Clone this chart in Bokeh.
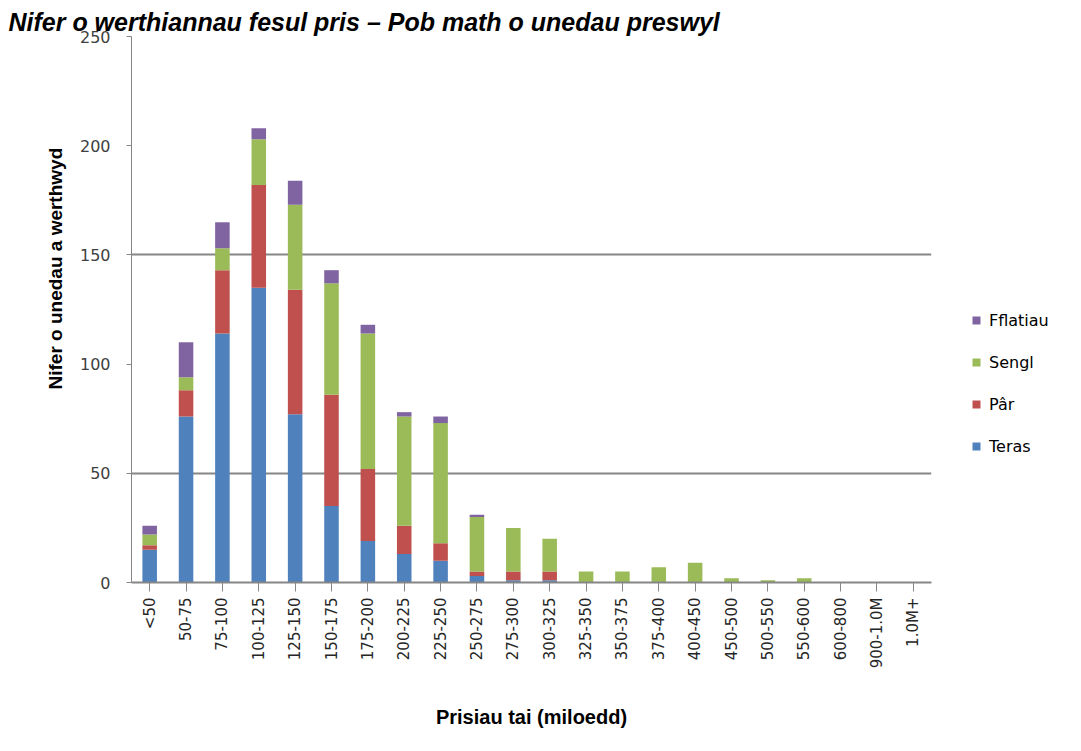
import math
from bokeh.plotting import figure
from bokeh.layouts import row
from bokeh.models import (ColumnDataSource, FactorRange, Range1d, FixedTicker,
                          Legend, LegendItem, Title)
from bokeh.embed import file_html
from bokeh.resources import INLINE

# ---- data ----
categories = ["<50", "50-75", "75-100", "100-125", "125-150", "150-175", "175-200",
              "200-225", "225-250", "250-275", "275-300", "300-325", "325-350",
              "350-375", "375-400", "400-450", "450-500", "500-550", "550-600",
              "600-800", "900-1.0M", "1.0M+"]
teras    = [15, 76, 114, 135, 77, 35, 19, 13, 10, 3, 1, 1, 0, 0, 0, 0, 0, 0, 0, 0, 0, 0]
par      = [2, 12, 29, 47, 57, 51, 33, 13, 8, 2, 4, 4, 0, 0, 0, 0, 0, 0, 0, 0, 0, 0]
sengl    = [5, 6, 10, 21, 39, 51, 62, 50, 55, 25, 20, 15, 5, 5, 7, 9, 2, 1, 2, 0, 0, 0]
fflatiau = [4, 16, 12, 5, 11, 6, 4, 2, 3, 1, 0, 0, 0, 0, 0, 0, 0, 0, 0, 0, 0, 0]
series_names = ["Teras", "Pâr", "Sengl", "Fflatiau"]
y_ticks = [0, 50, 100, 150, 200, 250]

title_text = "Nifer o werthiannau fesul pris \u2013 Pob math o unedau preswyl"
y_title = "Nifer o unedau a werthwyd"
x_title = "Prisiau tai (miloedd)"

colors = ["#4F81BD", "#C0504D", "#9BBB59", "#8064A2"]
grey = "#868686"
TICK_FONT = "DejaVu Sans"
BOLD_FONT = "Liberation Sans"

source = ColumnDataSource(dict(cats=categories, teras=teras, par=par,
                               sengl=sengl, fflatiau=fflatiau))

MAIN_W = 950
p = figure(x_range=FactorRange(factors=categories, range_padding=0),
           y_range=Range1d(0, 250),
           width=MAIN_W, height=751, output_backend="svg", toolbar_location=None,
           min_border_left=131, min_border_right=MAIN_W - 931, min_border_top=36,
           min_border_bottom=169)
p.outline_line_color = None
p.background_fill_color = "white"
p.border_fill_color = "white"

rs = p.vbar_stack(["teras", "par", "sengl", "fflatiau"], x="cats", width=0.4,
                  fill_color=colors, line_color=None, source=source)

# grid
p.xgrid.visible = False
p.ygrid.ticker = FixedTicker(ticks=[50, 150])
p.ygrid.grid_line_color = grey
p.ygrid.grid_line_width = 2

# y axis
p.yaxis.ticker = FixedTicker(ticks=y_ticks)
p.yaxis.axis_line_color = grey
p.yaxis.major_tick_line_color = grey
p.yaxis.major_tick_out = 5
p.yaxis.major_tick_in = 0
p.yaxis.minor_tick_line_color = None
p.yaxis.major_label_standoff = 16
p.yaxis.major_label_text_font = TICK_FONT
p.yaxis.major_label_text_font_size = "16px"
p.yaxis.major_label_text_color = "#404040"

# x axis
p.xaxis.axis_line_color = grey
p.xaxis.axis_line_width = 2
p.xaxis.major_tick_line_color = grey
p.xaxis.major_tick_out = 9
p.xaxis.major_tick_in = 0
p.xaxis.major_label_orientation = math.pi / 2
p.xaxis.major_label_standoff = 6
p.xaxis.major_label_text_font = TICK_FONT
p.xaxis.major_label_text_font_size = "15px"
p.xaxis.major_label_text_color = "#262626"
p.xaxis.axis_label = x_title
p.xaxis.axis_label_text_font = BOLD_FONT
p.xaxis.axis_label_text_font_style = "bold"
p.xaxis.axis_label_text_font_size = "20px"
p.xaxis.axis_label_text_color = "black"
p.xaxis.axis_label_standoff = 35

# y title as a side-panel title, shifted up like the reference
p.add_layout(Title(text=y_title, align="left", offset=193, standoff=21,
                   text_font=BOLD_FONT, text_font_style="bold",
                   text_font_size="19px", text_color="black"), "left")

# chart title
p.add_layout(Title(text=title_text, align="left", offset=-123, standoff=2,
                   text_font=BOLD_FONT, text_font_style="bold italic",
                   text_font_size="25px", text_color="black"), "above")

# ---- legend panel (separate narrow figure to the right) ----
LEG_W = 1081 - MAIN_W
lf = figure(width=LEG_W, height=751, output_backend="svg", toolbar_location=None,
            x_range=Range1d(0, 1), y_range=Range1d(0, 1),
            min_border_left=0, min_border_right=0,
            min_border_top=36, min_border_bottom=169)
lf.axis.visible = False
lf.grid.visible = False
lf.outline_line_color = None
lf.background_fill_color = "white"
lf.border_fill_color = "white"

# legend-only swatch renderers (one NaN row so the swatch is drawn, no visible bar)
swatch_src = ColumnDataSource(dict(x=[0.5], top=[float("nan")]))
swatches = [lf.vbar(x="x", top="top", width=0.1, fill_color=c, line_color=None,
                    source=swatch_src) for c in colors]

items = [LegendItem(label=series_names[i], renderers=[swatches[i]]) for i in [3, 2, 1, 0]]
legend = Legend(items=items, location=(971 - MAIN_W, 126),
                orientation="vertical",
                glyph_width=10, glyph_height=10, label_height=20,
                spacing=22, padding=0, margin=0, label_standoff=8,
                label_text_font=TICK_FONT, label_text_font_size="16px",
                label_text_color="black", border_line_color=None,
                background_fill_alpha=0)
lf.add_layout(legend)

layout = row(p, lf)
open("out.html", "w").write(file_html(layout, INLINE))
